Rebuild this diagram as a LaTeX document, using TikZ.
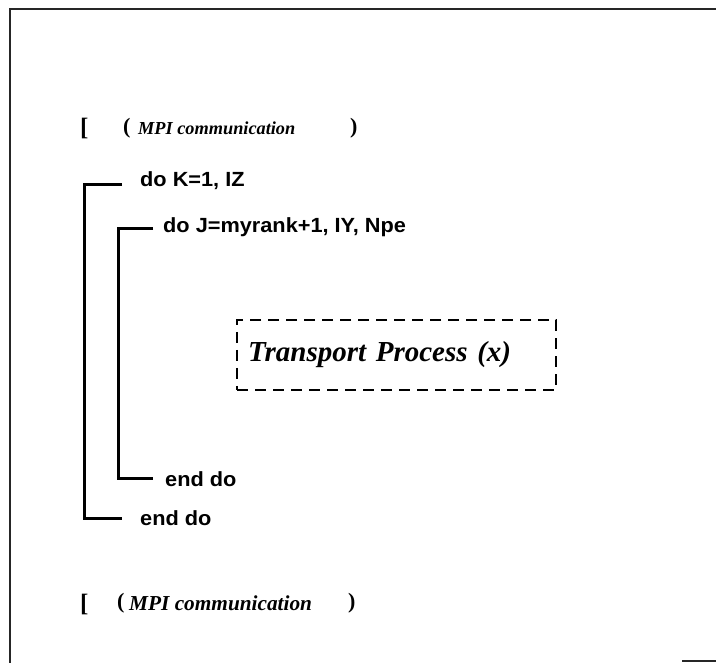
\documentclass[tikz,border=0pt]{standalone}
\usepackage{fontspec}
\setmainfont{Liberation Serif}
\newfontfamily\helv[FakeStretch=1.06]{Liberation Sans}
\begin{document}
\begin{tikzpicture}[x=1pt,y=-1pt,
  code/.style={font=\helv\bfseries\fontsize{20.5}{22}\selectfont, anchor=west, inner sep=0pt},
  mpi/.style={font=\bfseries\itshape\fontsize{18.3}{20}\selectfont, anchor=west, inner sep=0pt},
  mpib/.style={font=\bfseries\itshape\fontsize{21.3}{23}\selectfont, anchor=west, inner sep=0pt},
  brk/.style={font=\bfseries\fontsize{25}{27}\selectfont, anchor=west, inner sep=0pt},
  punct/.style={font=\bfseries\fontsize{22}{24}\selectfont, anchor=west, inner sep=0pt},
  bracket/.style={line width=3pt},
  frame/.style={line width=1.4pt, black!85},
  procbox/.style={draw, line width=2.6pt, dash pattern=on 11pt off 7pt, text width=297pt, align=left,
    inner xsep=11pt, minimum height=70pt, font=\bfseries\itshape\fontsize{29}{31}\selectfont}]
\useasboundingbox (0,0) rectangle (716,663);
% frame
\coordinate (fbl) at (10,663);
\coordinate (ftl) at (10,9);
\coordinate (ftr) at (716,9);
\draw[frame] (fbl) -- (ftl) -- (ftr);
\coordinate (fb1) at (682,661);
\coordinate (fb2) at (716,661);
\draw[frame] (fb1) -- (fb2);
% first MPI line
\node[brk] (lb1) at (80,129) {[};
\node[punct] (lp1) at (123,128) {(};
\node[mpi] (mpi1) at (138,128) {MPI communication};
\node[punct] (rp1) at (350,128) {)};
% loops
\node[code] (doK) at (140,181) {do K=1, IZ};
\node[code] (doJ) at (163,227) {do J=myrank+1, IY, Npe};
\node[code] (endJ) at (165,479) {end do};
\node[code] (endK) at (140,518) {end do};
\draw[bracket] ([xshift=-18pt,yshift=-4pt]doK.west) -| ([xshift=-56pt]endK.west) -- ([xshift=-18pt]endK.west);
\draw[bracket] ([xshift=-10pt,yshift=-2pt]doJ.west) -| ([xshift=-47pt]endJ.west) -- ([xshift=-12pt]endJ.west);
% process box
\node[procbox] (tp) at (396.5,355) {Transport Process (x)};
% second MPI line
\node[brk] (lb2) at (80,604) {[};
\node[punct] (lp2) at (117,603) {(};
\node[mpib] (mpi2) at (129,603) {MPI communication};
\node[punct] (rp2) at (348,603) {)};
\end{tikzpicture}
\end{document}
